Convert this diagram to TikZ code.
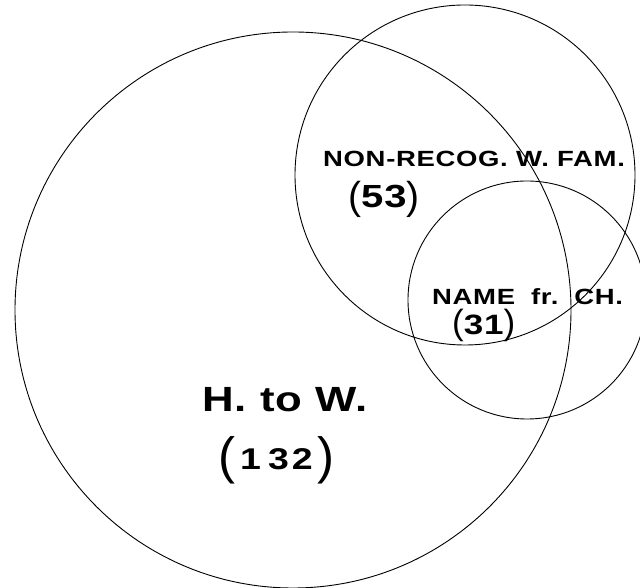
\documentclass[tikz,border=0pt]{standalone}
\usepackage{fontspec}
\setmainfont{Liberation Sans}
\newfontfamily\handfont[FakeStretch=1.25, LetterSpace=3]{Liberation Sans Bold}
\newfontfamily\parfont{Liberation Sans}

% tall brackets round a count: size, drop, count
\newcommand{\bigpar}[3]{\raisebox{-#2}{\parfont\fontsize{#1}{#1}\selectfont(}#3\raisebox{-#2}{\parfont\fontsize{#1}{#1}\selectfont)}}

\tikzset{
    setline/.style={line width=0.9pt},
    settext/.style={inner sep=0pt, anchor=base west},
}

\begin{document}
\begin{tikzpicture}[x=1pt, y=1pt]

    % -------------------------------------------------------
    % 1. Frame (the small circle runs off the right edge)
    % -------------------------------------------------------
    \useasboundingbox (0,0) rectangle (640,588);
    \clip (0,0) rectangle (640,588);

    % -------------------------------------------------------
    % 2. The three sets
    % -------------------------------------------------------
    % H. to W. / non-recognition / name from child
    \foreach \cx/\cy/\r in {293/278/278, 465/413/170, 527/288/119} {
        \draw[setline] (\cx,\cy) circle (\r);
    }

    % -------------------------------------------------------
    % 3. Labels and counts
    % -------------------------------------------------------
    \node[settext, font=\handfont\fontsize{22}{26}\selectfont] (nonrecog) at (323,421) {NON-RECOG. W. FAM.};
    \node[settext, font=\handfont\fontsize{32}{36}\selectfont] (nonrecogn) at (348,380) {\bigpar{39}{2pt}{53}};

    \node[settext, font=\handfont\fontsize{22}{26}\selectfont] (namech) at (432,283) {NAME\hspace{16pt}fr.\hspace{16pt}CH.};
    \node[settext, font=\handfont\fontsize{28}{32}\selectfont] (namechn) at (452,253) {\bigpar{35}{0pt}{31}};

    \node[settext, font=\handfont\fontsize{35}{40}\selectfont] (htow) at (202,176) {H. to W.};
    \node[settext, font=\handfont\fontsize{30}{34}\selectfont] (htown) at (218,118) {\bigpar{51}{4pt}{\hspace{5pt}1\hspace{7pt}3\hspace{3pt}2\hspace{5pt}}};
\end{tikzpicture}
\end{document}
